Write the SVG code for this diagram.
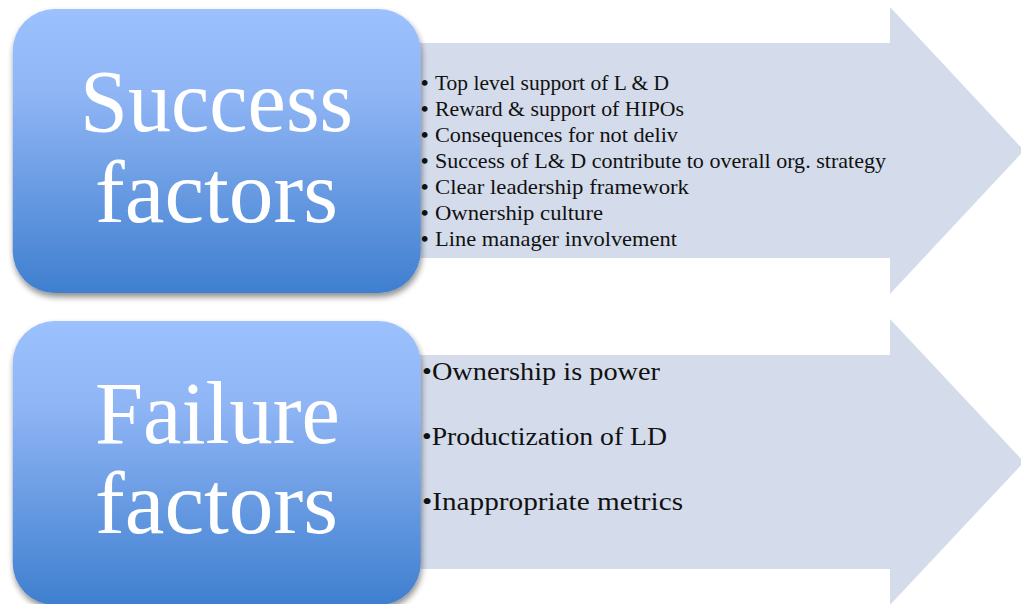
<svg xmlns="http://www.w3.org/2000/svg" width="1021" height="604" viewBox="0 0 1021 604">
  <defs>
    <linearGradient id="boxGrad" x1="0" y1="0" x2="0" y2="1">
      <stop offset="0" stop-color="#9CC1FE"/>
      <stop offset="0.3" stop-color="#8FB5F5"/>
      <stop offset="1" stop-color="#3F7FCF"/>
    </linearGradient>
    <filter id="shadow" x="-10%" y="-10%" width="120%" height="125%">
      <feGaussianBlur in="SourceAlpha" stdDeviation="3"/>
      <feOffset dx="1" dy="4" result="b"/>
      <feComponentTransfer><feFuncA type="linear" slope="0.45"/></feComponentTransfer>
      <feMerge><feMergeNode/><feMergeNode in="SourceGraphic"/></feMerge>
    </filter>
  </defs>
  <style>
    .arrow { fill: #D4DCEB; }
    .box { fill: url(#boxGrad); filter: url(#shadow); }
    .big { font-family: "Liberation Serif", "Times New Roman", serif; font-size: 88px; fill: #FFFFFF; }
    .item { font-family: "Liberation Serif", "Times New Roman", serif; font-size: 21px; fill: #111111; }
    .item2 { font-family: "Liberation Serif", "Times New Roman", serif; font-size: 26px; fill: #111111; }
  </style>

  <g id="connectors">
    <path class="arrow" d="M400,43 H890 V7 L1024,150.5 L890,294 V258 H400 Z"/>
    <path class="arrow" d="M400,355 H890 V319 L1024,462 L890,605 V569 H400 Z"/>
  </g>

  <g id="success-list">
    <g class="item">
      <text x="435" y="89.5"><tspan x="421" font-weight="bold">•</tspan><tspan x="435" textLength="234" lengthAdjust="spacingAndGlyphs">Top level support of L &amp; D</tspan></text>
      <text x="435" y="115.5"><tspan x="421" font-weight="bold">•</tspan><tspan x="435" textLength="249" lengthAdjust="spacingAndGlyphs">Reward &amp; support of HIPOs</tspan></text>
      <text x="435" y="141.5"><tspan x="421" font-weight="bold">•</tspan><tspan x="435" textLength="243" lengthAdjust="spacingAndGlyphs">Consequences for not deliv</tspan></text>
      <text x="435" y="167.5"><tspan x="421" font-weight="bold">•</tspan><tspan x="435" textLength="451" lengthAdjust="spacingAndGlyphs">Success of L&amp; D contribute to overall org. strategy</tspan></text>
      <text x="435" y="193.5"><tspan x="421" font-weight="bold">•</tspan><tspan x="435" textLength="254" lengthAdjust="spacingAndGlyphs">Clear leadership framework</tspan></text>
      <text x="435" y="219.5"><tspan x="421" font-weight="bold">•</tspan><tspan x="435" textLength="168" lengthAdjust="spacingAndGlyphs">Ownership culture</tspan></text>
      <text x="435" y="245.5"><tspan x="421" font-weight="bold">•</tspan><tspan x="435" textLength="242" lengthAdjust="spacingAndGlyphs">Line manager involvement</tspan></text>
    </g>
  </g>

  <g id="failure-list">
    <g class="item2">
      <text x="422" y="379.5" textLength="238" lengthAdjust="spacingAndGlyphs">•Ownership is power</text>
      <text x="422" y="445" textLength="245" lengthAdjust="spacingAndGlyphs">•Productization of LD</text>
      <text x="422" y="509.5" textLength="261" lengthAdjust="spacingAndGlyphs">•Inappropriate metrics</text>
    </g>
  </g>

  <g id="success-box">
    <rect class="box" x="12.7" y="9" width="408" height="284" rx="42" ry="42"/>
    <text class="big" x="80" y="131" textLength="273" lengthAdjust="spacingAndGlyphs">Success</text>
    <text class="big" x="95" y="222" textLength="243" lengthAdjust="spacingAndGlyphs">factors</text>
  </g>

  <g id="failure-box">
    <rect class="box" x="12.7" y="321" width="408" height="284" rx="42" ry="42"/>
    <text class="big" x="95" y="443" textLength="245" lengthAdjust="spacingAndGlyphs">Failure</text>
    <text class="big" x="95" y="533" textLength="243" lengthAdjust="spacingAndGlyphs">factors</text>
  </g>
</svg>
